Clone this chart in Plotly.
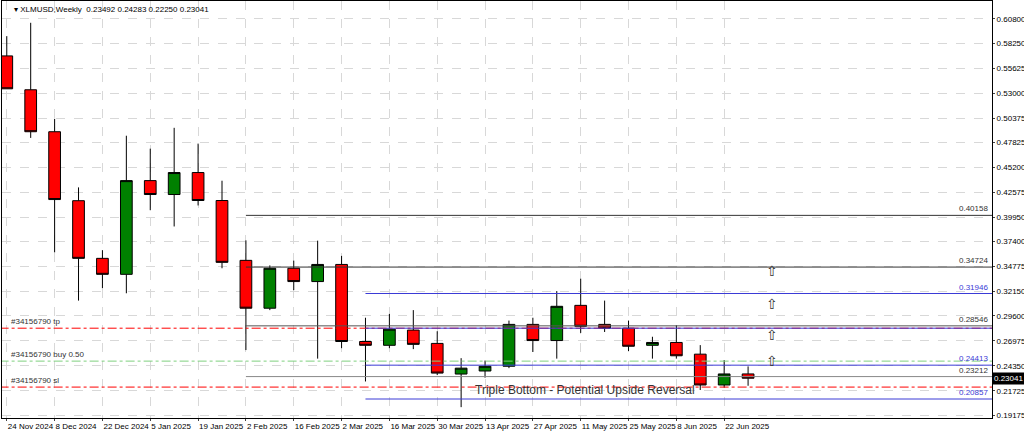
import plotly.graph_objects as go

dates = ["24 Nov 2024", "1 Dec 2024", "8 Dec 2024", "15 Dec 2024", "22 Dec 2024", "29 Dec 2024",
         "5 Jan 2025", "12 Jan 2025", "19 Jan 2025", "26 Jan 2025", "2 Feb 2025", "9 Feb 2025",
         "16 Feb 2025", "23 Feb 2025", "2 Mar 2025", "9 Mar 2025", "16 Mar 2025", "23 Mar 2025",
         "30 Mar 2025", "6 Apr 2025", "13 Apr 2025", "20 Apr 2025", "27 Apr 2025", "4 May 2025",
         "11 May 2025", "18 May 2025", "25 May 2025", "1 Jun 2025", "8 Jun 2025", "15 Jun 2025",
         "22 Jun 2025", "29 Jun 2025"]
opens = [0.5692, 0.5336, 0.4895, 0.4170, 0.3564, 0.3396, 0.4381, 0.4235, 0.4466, 0.4172, 0.3543, 0.3040,
         0.3460, 0.3320, 0.3500, 0.2690, 0.2650, 0.2810, 0.2670, 0.2348, 0.2380, 0.2430, 0.2870, 0.2700,
         0.3070, 0.2870, 0.2830, 0.2650, 0.2680, 0.2557, 0.2233, 0.23492]
highs = [0.5900, 0.6040, 0.5030, 0.4310, 0.3650, 0.4853, 0.4717, 0.4936, 0.4770, 0.4380, 0.3753, 0.3490,
         0.3540, 0.3750, 0.3590, 0.2940, 0.2980, 0.3020, 0.2798, 0.2515, 0.2490, 0.2910, 0.2940, 0.3220,
         0.3350, 0.3120, 0.2910, 0.2740, 0.2860, 0.2652, 0.2495, 0.24283]
lows = [0.5346, 0.4830, 0.3627, 0.3120, 0.3250, 0.3197, 0.4070, 0.3899, 0.4120, 0.3460, 0.2600, 0.3020,
        0.3230, 0.2510, 0.2620, 0.2270, 0.2620, 0.2610, 0.2337, 0.2000, 0.2310, 0.2410, 0.2580, 0.2510,
        0.2780, 0.2790, 0.2590, 0.2510, 0.2510, 0.2180, 0.2205, 0.22250]
closes = [0.5346, 0.4895, 0.4182, 0.3564, 0.3396, 0.4381, 0.4235, 0.4466, 0.4172, 0.3522, 0.3040, 0.3460,
          0.3320, 0.3500, 0.2690, 0.2650, 0.2820, 0.2660, 0.2358, 0.2410, 0.2430, 0.2870, 0.2700, 0.3060,
          0.2850, 0.2830, 0.2640, 0.2680, 0.2540, 0.2233, 0.2349, 0.23041]

y_ticks = [0.60800, 0.58250, 0.55625, 0.53000, 0.50375, 0.47825, 0.45200, 0.42575, 0.39950, 0.37400,
           0.34775, 0.32150, 0.29600, 0.26975, 0.24350, 0.21725, 0.19175]
y_labels = ["0.60800", "0.58250", "0.55625", "0.53000", "0.50375", "0.47825", "0.45200", "0.42575",
            "0.39950", "0.37400", "0.34775", "0.32150", "0.29600", "0.26975", "0.24350", "0.21725", "0.19175"]

# (price, start index, colour, label)
levels = [(0.40158, 10, "#333333", "0.40158"), (0.34724, 10, "#333333", "0.34724"),
          (0.31946, 15, "#3b3bd6", "0.31946"), (0.28546, 10, "#555555", "0.28546"),
          (0.2830, 15, "#3b3bd6", ""), (0.24413, 15, "#3b3bd6", "0.24413"),
          (0.23212, 10, "#888888", "0.23212"), (0.20857, 15, "#3b3bd6", "0.20857")]
orders = [(0.2830, "red", "#34156790 tp"), (0.2484, "#7fd07f", "#34156790 buy 0.50"),
          (0.2211, "red", "#34156790 sl")]
arrow_prices = [0.3435, 0.3080, 0.2760, 0.2490]

x = list(range(len(dates)))
xmax = 41.2
ff = "Liberation Sans"
font = dict(family=ff, size=8, color="black")

fig = go.Figure(go.Candlestick(
    x=x, open=opens, high=highs, low=lows, close=closes,
    increasing=dict(fillcolor="#008000", line=dict(color="black", width=1)),
    decreasing=dict(fillcolor="#ff0000", line=dict(color="black", width=1)),
    whiskerwidth=0, showlegend=False))

for p, c, lab in orders:
    fig.add_shape(type="line", x0=-0.3, x1=xmax, y0=p, y1=p, line=dict(color=c, width=1, dash="dashdot"))
    fig.add_annotation(x=0.1, y=p, text=lab, showarrow=False, xanchor="left", yanchor="bottom",
                       font=dict(family=ff, size=8, color="#333"))

for p, start, c, lab in levels:
    fig.add_shape(type="line", x0=start, x1=xmax, y0=p, y1=p, line=dict(color=c, width=1))
    if lab:
        fig.add_annotation(x=xmax - 0.1, y=p, text=lab, showarrow=False, xanchor="right", yanchor="bottom",
                           font=dict(family=ff, size=8, color=c if c == "#3b3bd6" else "#333"))

for p in arrow_prices:
    fig.add_annotation(x=32, y=p, text="⇧", showarrow=False, font=dict(size=14, color="#333"))

fig.add_annotation(x=19.5, y=0.2185, text="Triple Bottom - Potential Upside Reversal", showarrow=False,
                   xanchor="left", font=dict(family=ff, size=12, color="#333"))
fig.add_annotation(xref="paper", yref="paper", x=0.01, y=0.995, xanchor="left", yanchor="top",
                   text="▾ XLMUSD,Weekly  0.23492 0.24283 0.22250 0.23041", showarrow=False, font=font)
fig.add_annotation(xref="paper", x=1.0, y=closes[-1], xanchor="left", text="0.23041", showarrow=False,
                   bgcolor="black", font=dict(family=ff, size=8, color="white"))

fig.update_layout(
    width=1024, height=433, margin=dict(l=2, r=32, t=1, b=15, autoexpand=False),
    paper_bgcolor="white", plot_bgcolor="white", font=font,
    xaxis=dict(range=[-0.2, xmax], tickmode="array", tickvals=x[::2], ticktext=dates[::2],
               ticklabelposition="outside right",
               tickangle=0, showgrid=True, gridcolor="#d8d8d8", griddash="dash", rangeslider=dict(visible=False),
               showline=True, linecolor="black", mirror=True, ticks="outside", ticklen=2, zeroline=False),
    yaxis=dict(range=[0.1886, 0.6269], side="right", tickmode="array", tickvals=y_ticks, ticktext=y_labels,
               showgrid=True, gridcolor="#d8d8d8", griddash="dash",
               showline=True, linecolor="black", mirror=True, ticks="outside", ticklen=2, zeroline=False),
)

fig.write_html("out.html", config={"displayModeBar": False},
               post_script="document.body.style.margin='0';")
